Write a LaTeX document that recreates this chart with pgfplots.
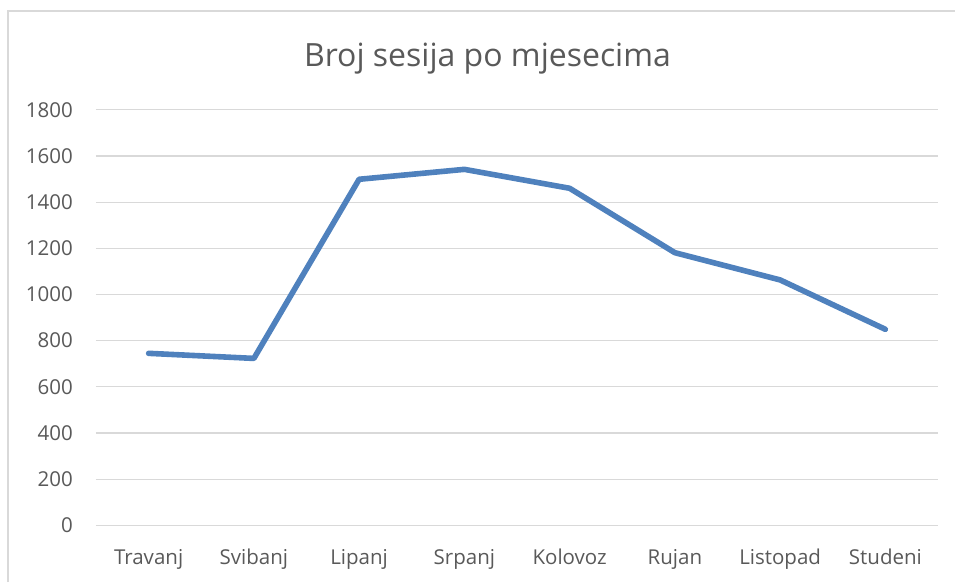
\documentclass[border=0pt]{standalone}
\usepackage{fontspec}
\setmainfont{Open Sans}
\usepackage{pgfplots}
\pgfplotsset{compat=1.18}
\definecolor{txt}{HTML}{595959}
\definecolor{grd}{HTML}{D9D9D9}
\definecolor{ln}{HTML}{4F81BD}
\begin{document}
\begin{tikzpicture}
\useasboundingbox (-96pt,-56.7pt) rectangle (859pt,525.3pt);
\draw[grd, line width=1.2pt] (-88pt,-56.7pt) -- (-88pt,514.3pt) -- (859pt,514.3pt);
\begin{axis}[
  at={(0pt,0pt)}, anchor=south west,
  scale only axis, width=842pt, height=415.5pt,
  xmin=-0.5, xmax=7.5, ymin=0, ymax=1800,
  ytick={0,200,...,1800},
  xtick={0,...,7},
  xticklabels={Travanj,Svibanj,Lipanj,Srpanj,Kolovoz,Rujan,Listopad,Studeni},
  axis line style={draw=none},
  major tick length=0pt,
  ymajorgrids, grid style={grd, line width=1.2pt},
  tick label style={font=\fontsize{20.5}{24}\selectfont, text=txt},
  /pgf/number format/assume math mode=true,
  /pgf/number format/set thousands separator={},
  yticklabel style={anchor=east, inner sep=0pt, xshift=-23pt},
  xticklabel style={anchor=base, inner sep=0pt, yshift=-38.7pt},
  clip=false,
]
\addplot[ln, line width=5.6pt, line join=round, line cap=round] coordinates {
  (0,745) (1,723) (2,1499) (3,1542) (4,1460) (5,1181) (6,1063) (7,849)
};
\end{axis}
\node[anchor=base, font=\fontsize{32}{38}\selectfont, text=txt] at (391.5pt,458.3pt) {Broj sesija po mjesecima};
\end{tikzpicture}
\end{document}
